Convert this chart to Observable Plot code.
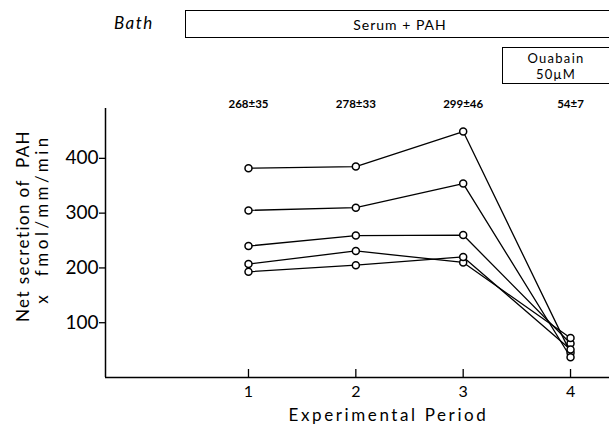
<!DOCTYPE html>
<html><head><meta charset="utf-8">
<script src="https://cdn.jsdelivr.net/npm/d3@7"></script>
<script src="https://cdn.jsdelivr.net/npm/@observablehq/plot@0.6"></script>
<style>
body{margin:0;background:#fff;}
#wrap{position:relative;width:609px;height:431px;overflow:hidden;font-family:Lato,"DejaVu Sans",sans-serif;color:#000;}
#wrap svg{position:absolute;left:0;top:0;}
.hdr{position:absolute;box-sizing:border-box;}
.box{border:1.5px solid #000;display:flex;flex-direction:column;align-items:center;justify-content:center;}
.box span{display:block;}
</style>
</head><body>
<div id="wrap">
  <div class="hdr" style="left:114px;top:12px;font-size:17px;font-style:italic;letter-spacing:1.5px;">Bath</div>
  <div class="hdr box" style="left:185px;top:10px;width:430px;height:28px;font-size:14px;letter-spacing:1px;">Serum + PAH</div>
  <div class="hdr box" style="left:502px;top:47px;width:108px;height:37px;font-size:13px;line-height:16px;letter-spacing:1.3px;"><span>Ouabain</span><span>50μM</span></div>
</div>
<script>
const periods = [1, 2, 3, 4];
const series1 = [382, 385, 449, 45];
const series2 = [305, 310, 354, 37];
const series3 = [240, 259, 260, 62];
const series4 = [207, 231, 210, 72];
const series5 = [193, 205, 220, 51];
const meanLabels = ["268±35", "278±33", "299±46", "54±7"];
const yTicks = [100, 200, 300, 400];
const yLabel1 = "Net secretion of  PAH";
const yLabel2 = "x  fmol/mm/min";
const xLabel = "Experimental Period";

const allSeries = [series1, series2, series3, series4, series5];
const rows = [];
allSeries.forEach((s, k) => s.forEach((v, i) => rows.push({series: k, period: periods[i], value: v})));

const font = 'Lato, "DejaVu Sans", sans-serif';
const chart = Plot.plot({
  width: 609, height: 431,
  marginLeft: 105, marginRight: 0, marginTop: 108, marginBottom: 54,
  x: {domain: [-0.332, 4.363], axis: null},
  y: {domain: [0, 491], axis: null},
  style: {fontFamily: font, background: "transparent", color: "#000"},
  marks: [
    Plot.ruleY([0], {stroke: "#000", strokeWidth: 1.5}),
    Plot.ruleX([-0.332], {stroke: "#000", strokeWidth: 1.5}),
    Plot.axisY({ticks: yTicks, label: null, tickSize: 6, tickPadding: 1, fontSize: 19, stroke: "#000", strokeWidth: 1.3}),
    Plot.axisX({ticks: periods, label: null, tickFormat: "d", tickSize: -8, tickPadding: 16, fontSize: 16, stroke: "#000", strokeWidth: 1.3}),
    Plot.line(rows, {x: "period", y: "value", z: "series", stroke: "#000", strokeWidth: 1.3}),
    Plot.dot(rows, {x: "period", y: "value", r: 3.5, fill: "#fff", stroke: "#000", strokeWidth: 1.5}),
    Plot.text(periods, {x: d => d, text: (d, i) => meanLabels[i], frameAnchor: "top", dy: -9, fontSize: 11.5, fontWeight: "bold"}),
    Plot.text([yLabel1], {frameAnchor: "left", textAnchor: "middle", rotate: -90, dx: -82, dy: -17, fontSize: 17}),
    Plot.text([yLabel2], {frameAnchor: "left", textAnchor: "middle", rotate: -90, dx: -63, dy: -24, fontSize: 17}),
    Plot.text([xLabel], {frameAnchor: "bottom", textAnchor: "middle", dx: 31, dy: 43, fontSize: 17})
  ]
});
const spacing = new Map([[yLabel1, "1.4px"], [yLabel2, "3.5px"], [xLabel, "2.6px"]]);
d3.select(chart).selectAll("text").each(function() {
  const t = this.textContent;
  if (spacing.has(t)) this.style.letterSpacing = spacing.get(t);
});
document.getElementById("wrap").prepend(chart);
</script>
</body></html>
